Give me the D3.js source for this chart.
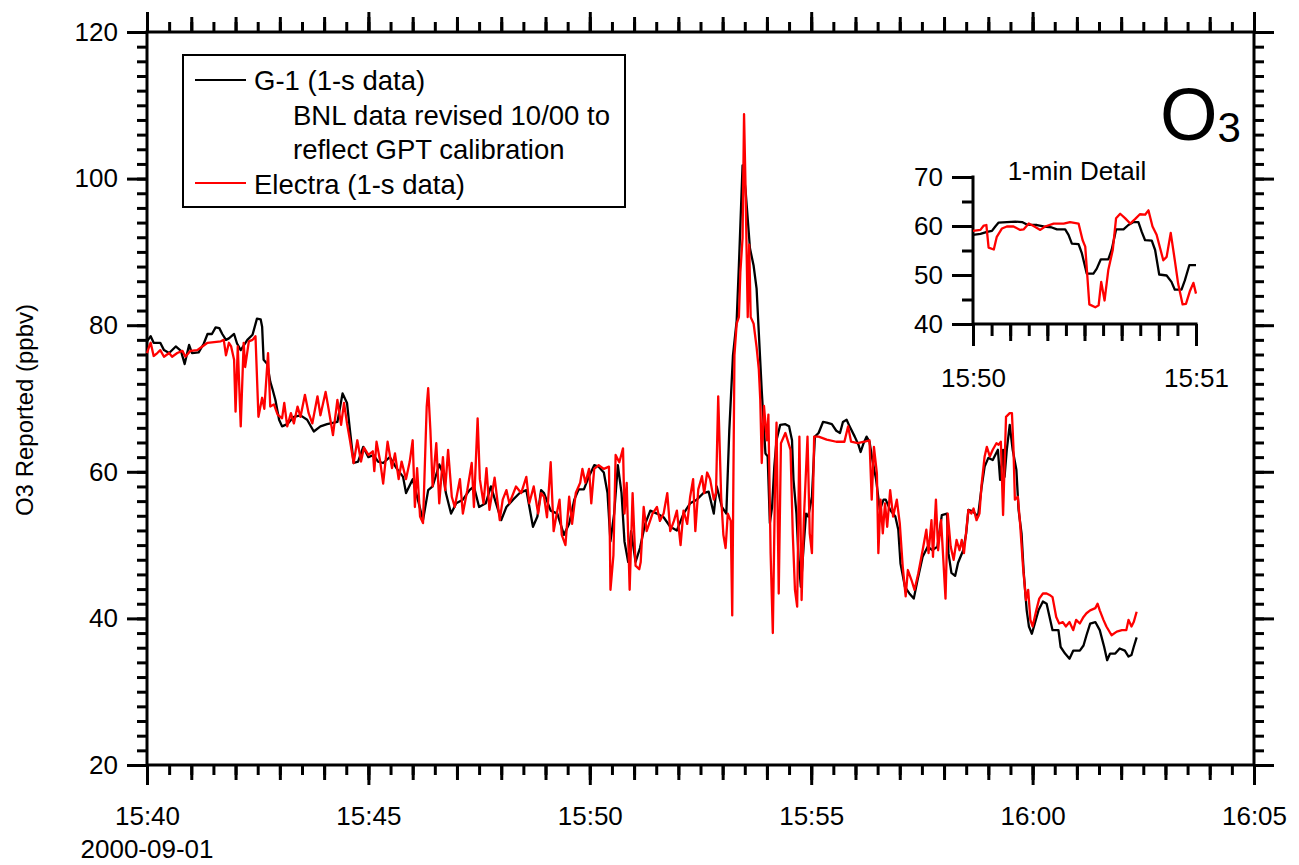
<!DOCTYPE html>
<meta charset="utf-8">
<style>
  body { margin: 0; background: #fff; }
  svg text { font-family: "Liberation Sans", Arial, sans-serif; fill: #000; }
</style>
<body>
<div id="chart"></div>
<script src="https://d3js.org/d3.v7.min.js"></script>
<script>

// seconds after 15:40:00, 2000-09-01 ; O3 in ppbv
var g1Sec = [0,5,9,18,23,30,39,46,51,57,61,70,77,82,88,93,98,102,107,111,118,122,127,136,143,149,154,156,158,163,167,170,174,179,183,190,199,208,217,226,235,244,258,265,
  271,275,280,286,293,300,307,313,320,329,338,347,351,360,367,374,381,387,396,401,405,412,419,428,437,443,450,459,466,473,480,487,496,505,514,523,529,534,
  538,547,556,565,572,579,585,592,599,606,612,619,624,628,633,638,643,647,652,656,662,668,675,682,691,700,709,718,727,736,745,754,761,768,772,779,785,789,794,799,802,807,811,817,822,826,829,833,
  838,841,844,847,850,853,858,865,870,874,876,880,883,886,890,893,896,901,905,910,916,921,928,934,939,943,948,952,959,964,967,971,975,979,983,988,993,998,1001,1007,1014,1018,1021,1027,1033,1039,1044,1051,1058,1064,1071,1077,
  1084,1086,1090,1095,1099,1106,1110,1113,1119,1126,1131,1135,1140,1146,1153,1156,1160,1162,1165,1169,1173,1178,1181,1185,1188,1192,1195,1199,1203,1208,1214,1219,1223,1227,1235,1238,1244,1250,1255,1264,1269,1273,1278,1285,1291,1297,1301,1305,1312,1318,1325,1330,1334,1337,1341];
var g1Val = [77.8,78.5,77.6,77.6,76.6,76.2,77.1,76.5,74.7,77.3,76.2,76.3,77.5,78.8,78.8,79.7,79.6,78.8,78,78.2,78.8,77.5,76.6,78,78.7,80.9,80.8,79.8,75.3,74.7,72.3,71.3,69.8,67.1,66.2,66.5,67.5,67.7,67.1,65.5,66.2,66.5,66.8,70.7,
  69.4,65.7,61.2,61.4,63.4,62,62.3,61.4,61.2,62,60.5,59.3,57.1,59,56.2,53.4,57.5,58,61,59.8,57.1,54.3,55.7,56.2,57.5,58,55.2,55.7,58,55.7,53.4,55.2,56.2,57.1,57.5,52.5,53.9,57.5,
  57.1,54.7,54.3,51.4,52.9,56.2,57.6,57.6,59.4,60.9,60.7,59.9,57.1,50.5,54.3,60.9,57.1,50.5,47.7,51.9,47.7,49.6,52.9,54.7,54.3,53.8,52.5,52,54.3,55.7,56.2,57.1,57.3,54.3,58,55.2,54.3,65.6,75.9,80.6,88.1,101.8,98.5,90.5,88.1,85,79,71,
  62.5,62.1,53,55.2,60.7,64.3,66.4,66.5,66.2,64.3,58.9,54.3,48,44.3,50.2,54.3,53.9,56.6,64.8,65.3,66.8,66.7,66.5,65.6,65.3,66.8,67.1,66.2,64.8,63.7,62.7,63.9,64.8,64.1,61.6,58.9,54.8,56.2,56.2,54.8,53.9,52.1,47.5,44.3,43.4,42.7,45.2,48.4,49.8,49.3,49.8,54.1,
  54.3,48.9,46.2,45.8,47.6,49.3,51.6,54.8,54.6,53.9,58,60.7,61.9,61.6,63,58.9,63,59.3,63,66.4,63,60.3,54.8,51.6,46.2,41.1,38.9,37.9,39.3,41.1,42.3,42,40.2,38.4,38.4,36.1,35.2,34.5,35.6,35.6,36.3,37.7,39.3,39.5,38.4,36.1,34.3,35.2,35.2,35.9,35.6,34.8,35,36.1,37.4];

var elSec = [0,3,5,9,14,18,23,30,34,41,48,52,59,68,75,82,91,100,104,107,111,114,118,120,123,127,131,133,138,143,147,151,156,159,164,167,172,177,183,186,190,195,199,204,208,214,219,224,231,235,242,246,252,258,263,
  267,271,275,280,285,290,294,300,306,308,311,316,320,326,332,336,341,345,351,356,360,363,366,370,374,379,381,384,387,392,396,401,404,408,413,417,424,428,434,440,443,448,451,456,460,464,471,478,482,487,491,500,507,514,518,524,530,534,
  538,542,547,551,556,559,562,567,572,576,581,587,590,594,599,602,606,612,619,626,628,632,635,640,645,647,650,654,658,662,667,669,673,677,685,691,695,700,705,709,714,718,723,727,732,736,740,743,747,752,755,759,763,768,771,774,778,781,784,787,791,793,796,799,802,804,807,809,811,814,816,818,822,826,829,
  831,833,836,840,842,845,848,851,853,856,859,865,872,875,878,881,884,887,890,895,898,901,904,910,921,934,945,950,954,963,972,979,982,985,989,991,994,997,1000,1003,1007,1011,1016,1020,1024,1028,1031,1036,1040,1045,1051,1056,1059,1063,1065,1069,1072,1076,
  1082,1085,1089,1093,1097,1101,1104,1107,1113,1117,1120,1124,1128,1131,1135,1138,1142,1146,1151,1154,1157,1160,1164,1169,1172,1174,1176,1180,1183,1187,1191,1194,1197,1200,1205,1209,1214,1219,1223,1227,1232,1236,1241,1245,1250,1255,1259,1264,1269,1273,1278,1285,1288,1291,1296,1300,1307,1314,1321,1327,1330,1334,1337,1341];
var elVal = [76.2,77.1,77.6,75.8,76.2,76.6,75.7,76.2,75.7,76.2,76.5,75.7,76.5,76.6,77.1,77.6,77.7,77.8,78,75.9,77.6,77.1,75.3,68.2,77.1,66.2,77.6,74.3,77.8,78,78.5,67.5,70.1,68.6,76.2,68.9,69.2,67.8,67.3,69.4,66.2,68,66.6,68.9,67.5,70.5,68,66.6,70.3,67.7,70.9,68.6,65,69.8,66.4,
  69.4,66.6,64.3,61.2,64.3,61.4,63.3,62.3,62.8,60.1,64.1,61.4,58.4,64.1,60.5,62.5,59,61.4,59,61.4,64.3,55.2,60.5,53.9,53,68.9,71.4,65.7,58,63.9,55.7,62,57.5,63,56.6,55.2,59,54.3,57.5,61.2,55.2,67.3,59,55.7,60.5,54.8,59.2,53.4,56.2,57.5,55.7,58,57.1,59.3,55.7,58,54.3,57.1,
  56.6,53.8,61.3,51.9,54.7,56.2,51.4,50,56.6,52.9,57.1,58.5,60.4,58.5,60.4,55.7,60.4,60.9,60.4,60.7,43.9,48.6,62.3,61.3,63.2,54.3,58.5,43.9,57.1,47.2,46.7,47.7,55.2,51.9,54.3,55.2,53.3,54.3,57.1,51.9,53.3,54.7,50,54.7,52.9,56.6,59,51.9,57.6,59.4,57.1,59.9,59,56.2,57.1,70.3,56.6,51.4,49.6,54.3,53.3,40.4,75.9,80.2,81.1,87.2,91.9,108.8,99,81.1,91,81.1,80.2,77,74,
  69.8,61.2,69,64.3,67.8,48.9,38,58.4,66.7,43.4,63.9,65.3,63,51.6,43.9,41.6,64.8,42.5,53.4,64.8,51.6,48.9,64.8,64.8,64.4,64.1,64.1,66.2,64.1,63.9,64.1,64.3,56.2,63.4,59.8,48.9,56.2,51.6,55.7,52.5,57.5,53.9,56.2,53,47.1,43,46.6,45.2,43.9,46.1,49.3,52.1,48.9,53.4,48.4,56.2,49.3,53.4,
  42.7,54.3,49.8,48,50.7,49.3,50.7,48.9,54.8,54.3,55,53.4,54.3,58.4,62.1,63.4,62.1,63,63.9,63.7,64.1,54.1,67.5,68,68,63.4,56.2,56.6,53,47.1,42.5,43.9,39.8,38.9,41.1,42.7,43.4,43.4,43.2,42.9,40.2,39.3,39.5,38.9,39.5,38.4,39.8,39.3,40.2,40.7,41.1,41.4,42,41.1,39.8,38.9,37.7,38.2,38.4,38.4,39.8,38.9,39.5,40.9];

// 1-min detail, seconds after 15:50:00
var detailG1Sec = [0,2,3.8,5.1,6,6.9,9.1,11.4,13.2,14.5,17.2,19,21.2,22.6,24.8,25.7,26.6,28.4,29.3,30.6,32.4,33.3,34.4,36.4,37.3,38.5,40.5,41.8,43.2,44.5,45.4,46.3,48.1,49,50.1,52.1,53.4,54.3,56.1,57,58.2,60];
var detailG1Val = [58.2,58.4,58.8,59,59.9,60.7,60.8,60.9,60.8,60.3,60.2,59.9,59.7,59.3,59.3,58.2,56.4,56.3,54.4,50.3,50.3,51.3,53.2,53.2,55.1,59.3,59.3,60.2,60.8,60.8,58.8,57.1,57,55.1,50.1,49.9,48.6,47,47,48.9,52,52];
var detailElSec = [0,2,2.9,3.6,4.2,5.6,6.4,7.8,9.1,10.9,12.7,13.6,15,16.3,18.1,19.4,21.7,24.4,26.1,28.4,29.5,30.2,31.3,32.9,33.8,34.5,35.4,36.4,37.6,38.5,39.6,40.9,42.3,43.6,44.9,46.3,47.2,48.3,49.4,51.2,52.1,53.2,54.3,55.2,56.4,57.3,58.4,59.3,60];
var detailElVal = [59,59.2,60.1,60.2,55.6,55.2,57.8,59.5,59.9,59.9,59.2,59.3,60.5,60,59.2,59.9,60.5,60.5,60.8,60.5,57.1,55.8,44,43.4,43.8,48.6,44.8,51,55.1,61.6,62.5,61.6,60.5,61.4,62.4,62.3,63.2,59.9,58.2,53,53.7,58.6,53,48.2,44,44.1,46.8,48.4,46.2];

var yTicks = [20, 40, 60, 80, 100, 120];
var xTickSec = [0, 300, 600, 900, 1200, 1500];
var xTickLabels = ["15:40", "15:45", "15:50", "15:55", "16:00", "16:05"];
var detailYTicks = [40, 50, 60, 70];
var detailXTickSec = [0, 60];
var detailXLabels = ["15:50", "15:51"];

var width = 1299, height = 865;
var svg = d3.select("#chart").append("svg")
  .attr("width", width).attr("height", height);

var x = d3.scaleLinear().domain([0, 1500]).range([147, 1254]);
var y = d3.scaleLinear().domain([20, 120]).range([765, 32]);

function ticks(axisFn, scale, tx, ty, vals, size, labels, pad) {
  var ax = axisFn(scale).tickValues(vals).tickSize(size).tickSizeOuter(0)
    .tickPadding(pad || 3)
    .tickFormat(labels ? function(d, i) { return labels[i]; } : "");
  var g = svg.append("g").attr("transform", "translate(" + tx + "," + ty + ")").call(ax);
  g.select(".domain").remove();
  g.selectAll("line").attr("stroke", "#000").attr("stroke-width", 3);
  g.selectAll("text").attr("font-size", 26);
  return g;
}

// main axes: bottom / top
ticks(d3.axisBottom, x, 0, 765, d3.range(0, 1501, 30), 10);
ticks(d3.axisBottom, x, 0, 765, d3.range(0, 1501, 60), 15);
ticks(d3.axisBottom, x, 0, 765, xTickSec, 20, xTickLabels)
  .selectAll("text").attr("y", 60).attr("dy", null);
ticks(d3.axisTop, x, 0, 32, d3.range(0, 1501, 30), 10);
ticks(d3.axisTop, x, 0, 32, d3.range(0, 1501, 60), 15);
ticks(d3.axisTop, x, 0, 32, xTickSec, 20);

// left / right
ticks(d3.axisLeft, y, 147, 0, d3.range(20, 121, 2), 10);
ticks(d3.axisLeft, y, 147, 0, yTicks, 20, yTicks, 9);
ticks(d3.axisRight, y, 1254, 0, d3.range(20, 121, 2), 10);
ticks(d3.axisRight, y, 1254, 0, yTicks, 20);

svg.append("rect")
  .attr("x", x(0)).attr("y", y(120))
  .attr("width", x(1500) - x(0)).attr("height", y(20) - y(120))
  .attr("fill", "none").attr("stroke", "#000").attr("stroke-width", 3);

svg.append("text").attr("x", 147).attr("y", 858)
  .attr("text-anchor", "middle").attr("font-size", 26).text("2000-09-01");

svg.append("text")
  .attr("transform", "translate(33,410) rotate(-90)")
  .attr("text-anchor", "middle").attr("font-size", 24)
  .text("O3 Reported (ppbv)");

// data
var line = d3.line().x(function(d) { return x(d[0]); }).y(function(d) { return y(d[1]); });
svg.append("path").datum(d3.zip(g1Sec, g1Val)).attr("d", line)
  .attr("fill", "none").attr("stroke", "#000").attr("stroke-width", 2.3).attr("stroke-linejoin", "round");
svg.append("path").datum(d3.zip(elSec, elVal)).attr("d", line)
  .attr("fill", "none").attr("stroke", "#ff0000").attr("stroke-width", 2.3).attr("stroke-linejoin", "round");

// legend
var lg = svg.append("g");
lg.append("rect").attr("x", 183).attr("y", 55).attr("width", 442).attr("height", 152)
  .attr("fill", "#fff").attr("stroke", "#000").attr("stroke-width", 2);
lg.append("line").attr("x1", 195).attr("x2", 246).attr("y1", 80).attr("y2", 80)
  .attr("stroke", "#000").attr("stroke-width", 2);
lg.append("line").attr("x1", 195).attr("x2", 246).attr("y1", 183).attr("y2", 183)
  .attr("stroke", "#ff0000").attr("stroke-width", 2);
lg.append("text").attr("x", 254).attr("y", 90).attr("font-size", 27.5).text("G-1 (1-s data)");
lg.append("text").attr("x", 293).attr("y", 125).attr("font-size", 27.5).text("BNL data revised 10/00 to");
lg.append("text").attr("x", 293).attr("y", 159).attr("font-size", 27.5).text("reflect GPT calibration");
lg.append("text").attr("x", 254).attr("y", 194).attr("font-size", 27.5).text("Electra (1-s data)");

// O3 label
var o3 = svg.append("text").attr("x", 1160).attr("y", 140).attr("font-size", 74).text("O");
o3.append("tspan").attr("font-size", 42).attr("dy", 2).text("3");

// inset
var ix = d3.scaleLinear().domain([0, 60]).range([973, 1196]);
var iy = d3.scaleLinear().domain([40, 70]).range([324, 177]);

ticks(d3.axisBottom, ix, 0, 324, d3.range(0, 61, 5), 12);
ticks(d3.axisBottom, ix, 0, 324, d3.range(0, 61, 10), 17);
ticks(d3.axisBottom, ix, 0, 324, detailXTickSec, 22, detailXLabels)
  .selectAll("text").attr("y", 63).attr("dy", null);
ticks(d3.axisLeft, iy, 973, 0, d3.range(40, 71, 5), 11);
ticks(d3.axisLeft, iy, 973, 0, detailYTicks, 21, detailYTicks, 9);

svg.append("path").attr("d", "M973,177V324H1196")
  .attr("fill", "none").attr("stroke", "#000").attr("stroke-width", 3)
  .attr("stroke-linecap", "square");

svg.append("text").attr("x", 1077).attr("y", 180).attr("text-anchor", "middle")
  .attr("font-size", 26).text("1-min Detail");

var iline = d3.line().x(function(d) { return ix(d[0]); }).y(function(d) { return iy(d[1]); });
svg.append("path").datum(d3.zip(detailG1Sec, detailG1Val)).attr("d", iline)
  .attr("fill", "none").attr("stroke", "#000").attr("stroke-width", 2.3).attr("stroke-linejoin", "round");
svg.append("path").datum(d3.zip(detailElSec, detailElVal)).attr("d", iline)
  .attr("fill", "none").attr("stroke", "#ff0000").attr("stroke-width", 2.3).attr("stroke-linejoin", "round");

</script>
</body>
